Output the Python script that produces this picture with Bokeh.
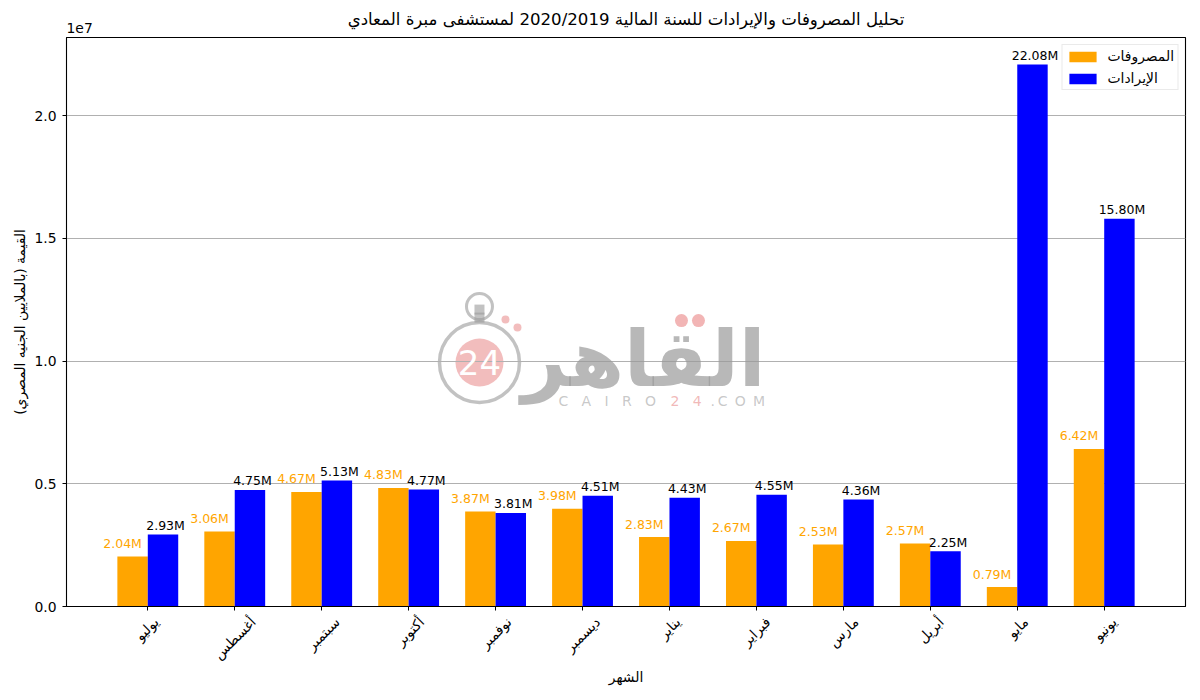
from bokeh.plotting import figure
from bokeh.embed import file_html
from bokeh.resources import INLINE
from bokeh.models import ColumnDataSource, FixedTicker, Legend, LegendItem, Range1d, Label, LinearAxis, Title
from bokeh.core.properties import value
import math

months = ["يوليو", "أغسطس", "سبتمبر", "أكتوبر", "نوفمبر", "ديسمبر", "يناير", "فبراير", "مارس", "أبريل", "مايو", "يونيو"]
expenses_m = [2.04, 3.06, 4.67, 4.83, 3.87, 3.98, 2.83, 2.67, 2.53, 2.57, 0.79, 6.42]
revenues_m = [2.93, 4.75, 5.13, 4.77, 3.81, 4.51, 4.43, 4.55, 4.36, 2.25, 22.08, 15.80]
y_ticks = [0, 5000000, 10000000, 15000000, 20000000]
y_tick_labels = ["0.0", "0.5", "1.0", "1.5", "2.0"]
title_text = "تحليل المصروفات والإيرادات للسنة المالية 2020/2019 لمستشفى مبرة المعادي"
x_title = "الشهر"
y_title = "القيمة (بالملايين الجنيه المصري)"
series_names = ["المصروفات", "الإيرادات"]
scale_note = "1e7"

FONT = "DejaVu Sans"
W = 0.35
idx = list(range(len(months)))
exp_vals = [v * 1e6 for v in expenses_m]
rev_vals = [v * 1e6 for v in revenues_m]
src_e = ColumnDataSource(dict(x=[i - W / 2 for i in idx], top=exp_vals, label=[f"{v:.2f}M" for v in expenses_m]))
src_r = ColumnDataSource(dict(x=[i + W / 2 for i in idx], top=rev_vals, label=[f"{v:.2f}M" for v in revenues_m]))

p = figure(frame_width=1119, frame_height=569, output_backend="svg", toolbar_location=None,
           x_range=Range1d(-0.935, 11.935), y_range=Range1d(0, 23184000),
           min_border_left=66, min_border_right=15, min_border_top=37, min_border_bottom=94,
           background_fill_color="white", border_fill_color="white")
p.margin = (0, 0, 0, 0)

p.title.text = title_text
p.title.align = "center"
p.title.text_font = FONT
p.title.text_font_size = "16.6px"
p.title.text_font_style = "normal"
p.title.text_color = "black"
p.title.offset = 0
p.title.standoff = -26
p.add_layout(Title(text=scale_note, align="left", text_font=FONT, text_font_size="13.9px", text_font_style="normal",
                   text_color="black", offset=0, standoff=10, text_line_height=0.2), "above")

p.outline_line_color = "black"
p.outline_line_width = 1.1

p.xgrid.visible = False
p.ygrid.grid_line_color = "#b0b0b0"
p.ygrid.grid_line_width = 1
p.ygrid.ticker = FixedTicker(ticks=y_ticks)

# tick marks on one bottom axis, the rotated month names on a second one
p.xaxis.ticker = FixedTicker(ticks=idx)
p.xaxis.major_label_overrides = {i: "" for i in idx}
p.xaxis.major_label_standoff = 0

label_shift_px = [8.5, 18.5, 15.5, 13, 13.5, 15, 8.5, 11.5, 12.5, 11, 8.5, 10]
label_ticks = [round(i + s / 86.95, 4) for i, s in zip(idx, label_shift_px)]
month_axis = LinearAxis(ticker=FixedTicker(ticks=label_ticks),
                        major_label_overrides={t: m for t, m in zip(label_ticks, months)},
                        major_label_orientation=math.pi / 4, major_label_standoff=9,
                        axis_line_color=None, major_tick_line_color=None, major_tick_out=0, major_tick_in=0,
                        minor_tick_line_color=None, axis_label=x_title, axis_label_standoff=-2)
p.add_layout(month_axis, "below")

p.yaxis.ticker = FixedTicker(ticks=y_ticks)
p.yaxis.major_label_overrides = {t: l for t, l in zip(y_ticks, y_tick_labels)}
p.yaxis.axis_label = y_title
for ax in (p.xaxis[0], month_axis, p.yaxis[0]):
    ax.major_label_text_font = FONT
    ax.major_label_text_font_size = "13.9px"
    ax.major_label_text_color = "black"
    ax.axis_label_text_font = FONT
    ax.axis_label_text_font_size = "13.9px"
    ax.axis_label_text_font_style = "normal"
    ax.axis_label_text_color = "black"
for ax in (p.xaxis[0], p.yaxis[0]):
    ax.major_tick_in = 0
    ax.major_tick_out = 4
    ax.minor_tick_line_color = None
    ax.axis_line_color = "black"
    ax.major_tick_line_color = "black"
p.yaxis.major_label_standoff = 6
p.yaxis.axis_label_standoff = 3


def dx(px):
    return (px - 147.3) / 86.95


def dy(py):
    return (606 - py) * 1e7 / 245.5


# watermark
GREY = "#9a9a9a"
PINK = "#eb9a9a"
ga = 0.6
p.scatter([dx(479)], [dy(362)], size=80, marker="circle", fill_color=None, line_color=GREY, line_alpha=ga, line_width=3.5, level="underlay")
p.scatter([dx(479)], [dy(362)], size=48, marker="circle", fill_color=PINK, fill_alpha=0.65, line_color=None, level="underlay")
p.scatter([dx(479)], [dy(306)], size=26, marker="circle", fill_color=None, line_color=GREY, line_alpha=ga, line_width=3, level="underlay")
p.scatter([dx(479), dx(479)], [dy(309), dy(317)], size=10, marker="square", fill_color=GREY, fill_alpha=ga, line_color=None, level="underlay")
p.scatter([dx(505), dx(517)], [dy(319), dy(327)], size=8, marker="circle", fill_color=PINK, fill_alpha=0.65, line_color=None, level="underlay")
p.add_layout(Label(x=dx(479), y=dy(362), text="24", text_align="center", text_baseline="middle", text_color="white",
                   text_font=FONT, text_font_size="34px", level="underlay"))
p.add_layout(Label(x=dx(643), y=dy(358), text="القاهر", text_align="center", text_baseline="middle", text_color=GREY,
                   text_alpha=0.7, text_font=FONT, text_font_style="bold", text_font_size="78px", level="underlay"))
p.scatter([dx(681), dx(698)], [dy(320), dy(320)], size=13, marker="circle", fill_color="#f2b5b5", line_color=None, level="underlay")
SP = "\u00a0\u00a0\u00a0"
p.add_layout(Label(x=dx(558), y=dy(400), text=SP.join("CAIRO"), text_align="left", text_baseline="middle",
                   text_color=GREY, text_alpha=0.55, text_font=FONT, text_font_size="14px", level="underlay"))
p.add_layout(Label(x=dx(670), y=dy(400), text=SP.join("24"), text_align="left", text_baseline="middle",
                   text_color=PINK, text_alpha=0.7, text_font=FONT, text_font_size="14px", level="underlay"))
p.add_layout(Label(x=dx(710), y=dy(400), text=".\u2009C\u00a0\u2009O\u00a0\u2009M", text_align="left", text_baseline="middle",
                   text_color=GREY, text_alpha=0.55, text_font=FONT, text_font_size="14px", level="underlay"))

r1 = p.vbar(x="x", top="top", width=W, source=src_e, fill_color="orange", line_color=None)
r2 = p.vbar(x="x", top="top", width=W, source=src_r, fill_color="blue", line_color=None)

p.text(x="x", y="top", text="label", source=src_e, text_color="orange", text_align="center", text_baseline="middle",
       x_offset=-10, y_offset=-13, text_font=value(FONT), text_font_size="12.5px")
p.text(x="x", y="top", text="label", source=src_r, text_color="black", text_align="center", text_baseline="middle",
       x_offset=2.5, y_offset=-9, text_font=value(FONT), text_font_size="12.5px")

legend = Legend(items=[LegendItem(label=series_names[0], renderers=[r1]), LegendItem(label=series_names[1], renderers=[r2])],
                location="top_right")
legend.label_text_font = FONT
legend.label_text_font_size = "13.9px"
legend.label_text_color = "black"
legend.glyph_width = 34
legend.glyph_height = 13
legend.label_standoff = 8
legend.spacing = 6
legend.padding = 3
legend.margin = 7
legend.border_line_color = "#d5d5d5"
legend.background_fill_alpha = 0.8
p.add_layout(legend)

open("out.html", "w").write(file_html(p, INLINE))
